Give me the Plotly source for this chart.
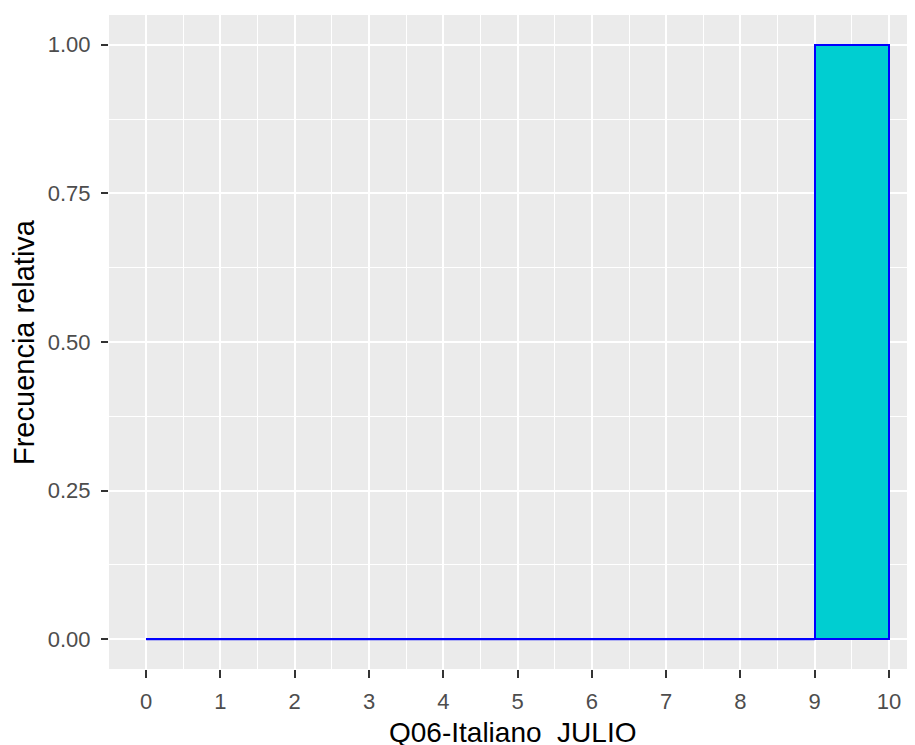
import plotly.graph_objects as go

bin_left = [0, 1, 2, 3, 4, 5, 6, 7, 8, 9]
bin_width = 1
rel_freq = [0, 0, 0, 0, 0, 0, 0, 0, 0, 1.0]
x_ticks = [0, 1, 2, 3, 4, 5, 6, 7, 8, 9, 10]
y_ticks = [0.0, 0.25, 0.5, 0.75, 1.0]
y_tick_labels = ["0.00", "0.25", "0.50", "0.75", "1.00"]
x_title = "Q06-Italiano  JULIO"
y_title = "Frecuencia relativa"

FILL = "#00CED1"
EDGE = "#0000FF"

centers = [b + bin_width / 2 for b in bin_left]

fig = go.Figure()
fig.add_trace(go.Bar(
    x=centers, y=rel_freq, width=[bin_width] * len(centers),
    marker=dict(color=FILL, line=dict(color=EDGE, width=2)),
    showlegend=False, hoverinfo="skip",
))

# zero-height bins: ggplot still draws their outline as a flat line
zx, zy = [], []
for b, v in zip(bin_left, rel_freq):
    if v == 0:
        zx += [b, b + bin_width, None]
        zy += [v, v, None]
fig.add_trace(go.Scatter(
    x=zx, y=zy, mode="lines", line=dict(color=EDGE, width=2),
    showlegend=False, hoverinfo="skip",
))

font = "Liberation Sans, Arial, sans-serif"
# page body has an 8px default margin, so the figure is sized/offset to compensate
fig.update_layout(
    width=907, height=737,
    margin=dict(l=101, r=0, t=7, b=76, pad=0, autoexpand=False),
    paper_bgcolor="white", plot_bgcolor="#EBEBEB",
    font=dict(family=font, color="#4D4D4D"),
    bargap=0,
)
fig.update_xaxes(
    range=[-0.5, 10.35], tickmode="array", tickvals=x_ticks,
    ticktext=[str(t) for t in x_ticks],
    showgrid=True, gridcolor="white", gridwidth=2,
    minor=dict(tickmode="array", tickvals=[t + 0.5 for t in x_ticks[:-1]] + [-0.5, 10.5],
               showgrid=True, gridcolor="white", gridwidth=1, ticks=""),
    ticks="outside", ticklen=8, tickwidth=1.5, tickcolor="#333333",
    ticklabelstandoff=5,
    tickfont=dict(size=22, color="#4D4D4D"),
    zeroline=False, showline=False, automargin=False,
)
fig.update_yaxes(
    range=[-0.05, 1.05], tickmode="array", tickvals=y_ticks, ticktext=y_tick_labels,
    showgrid=True, gridcolor="white", gridwidth=2,
    minor=dict(tickmode="array", tickvals=[0.125, 0.375, 0.625, 0.875],
               showgrid=True, gridcolor="white", gridwidth=1, ticks=""),
    ticks="outside", ticklen=7, tickwidth=1.5, tickcolor="#333333",
    ticklabelstandoff=6,
    tickfont=dict(size=22, color="#4D4D4D"),
    zeroline=False, showline=False, automargin=False,
)
fig.add_annotation(
    text=x_title, xref="x", yref="paper", x=4.93, y=0, yanchor="middle",
    yshift=-63, showarrow=False, font=dict(size=28, color="black"),
)
fig.add_annotation(
    text=y_title, xref="paper", yref="paper", x=0, y=0.5, xanchor="center",
    yanchor="middle", xshift=-85, textangle=-90, showarrow=False,
    font=dict(size=29, color="black"),
)

fig.write_html("out.html")
